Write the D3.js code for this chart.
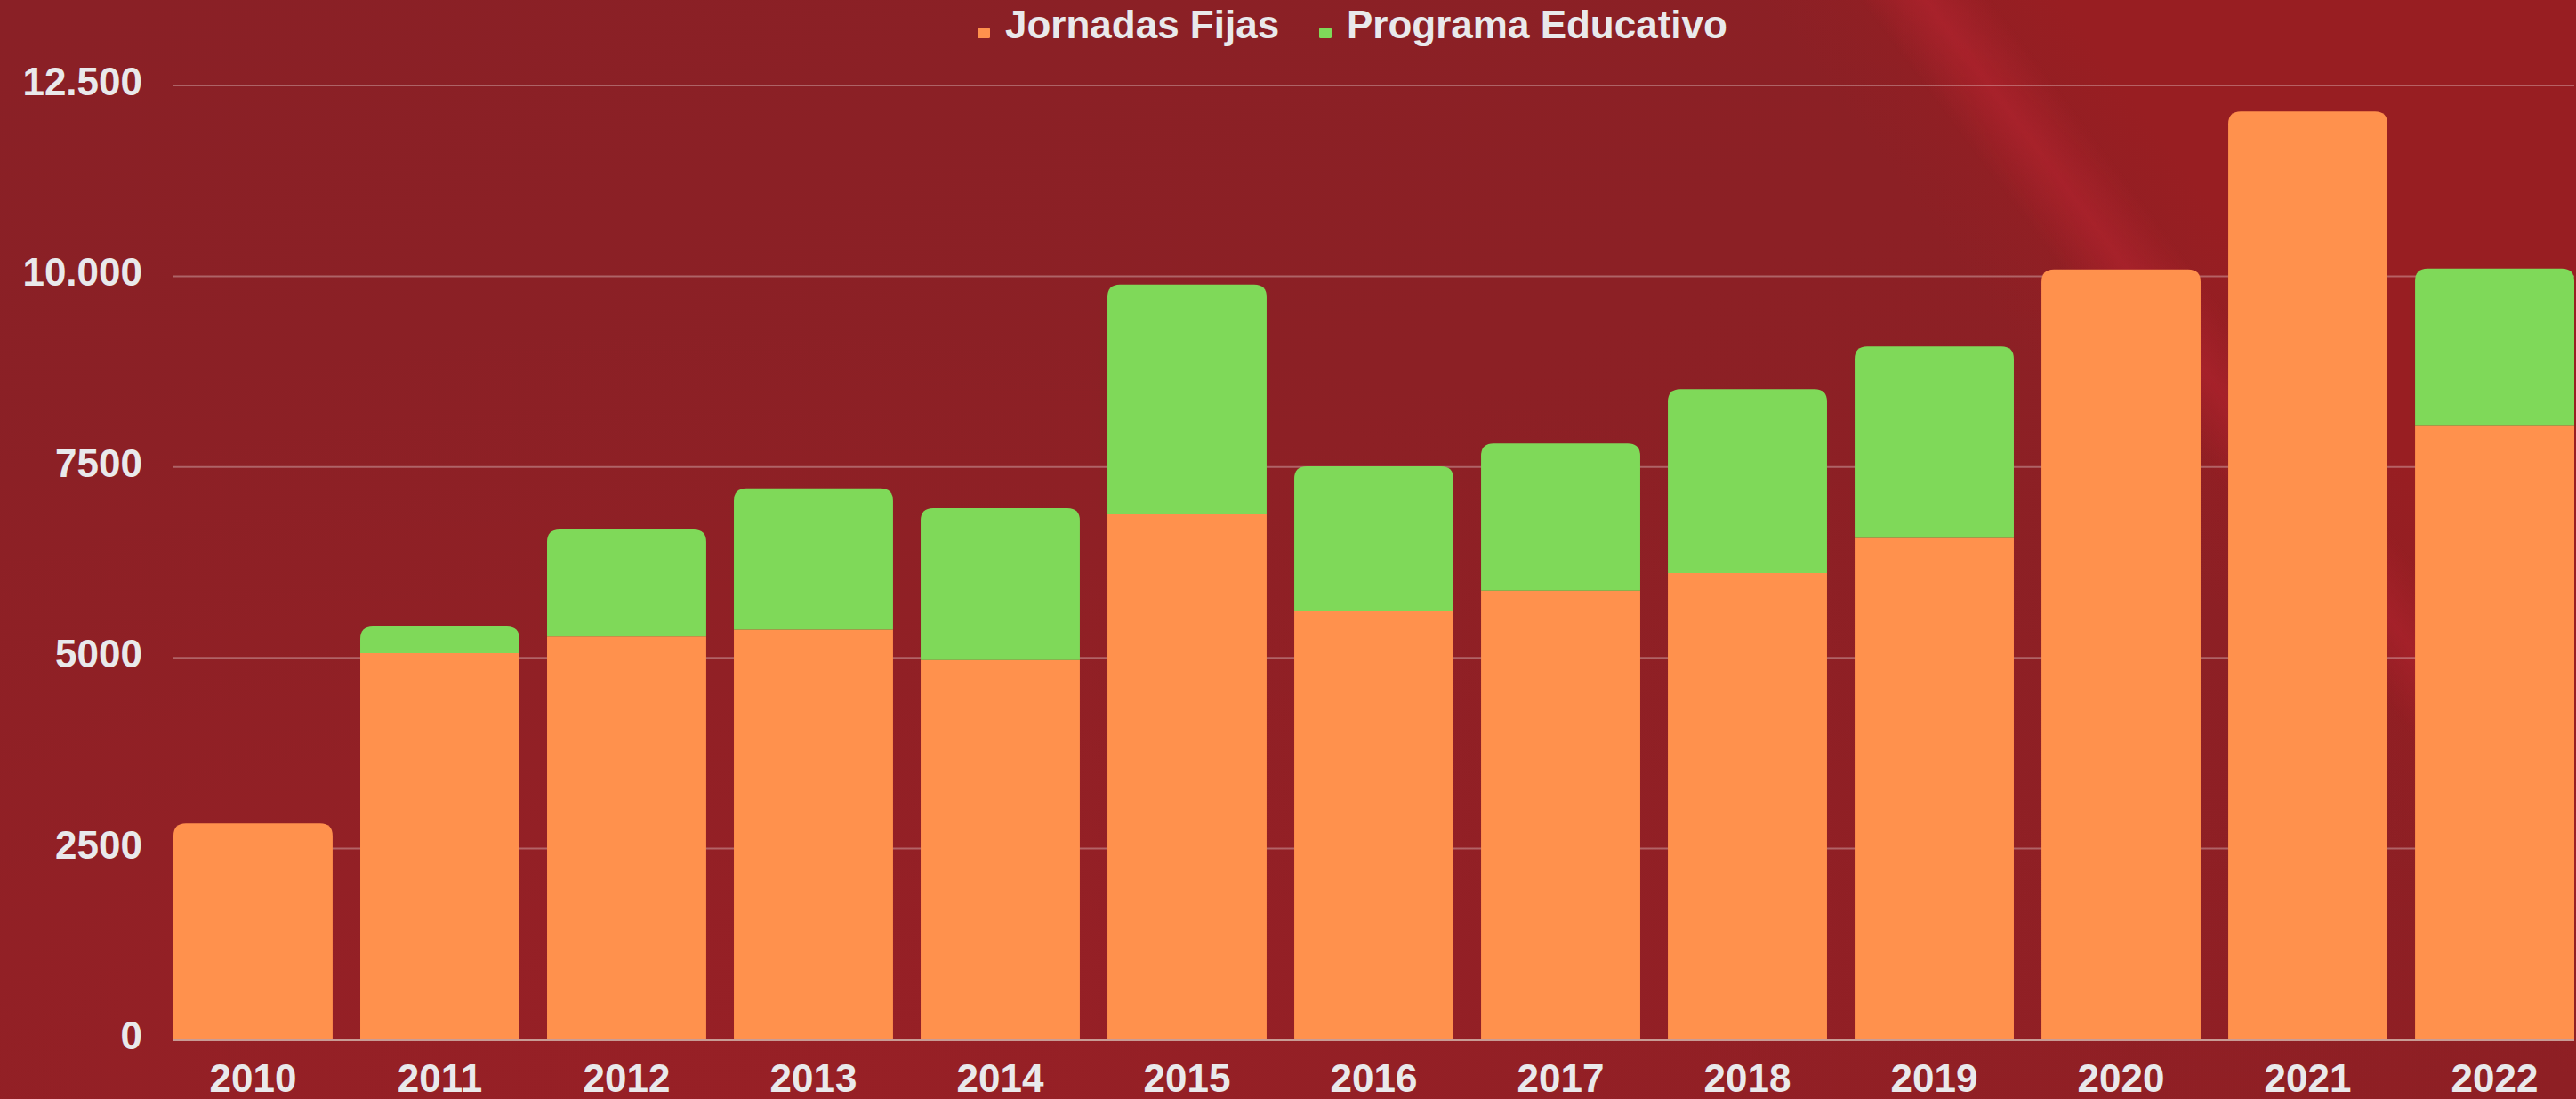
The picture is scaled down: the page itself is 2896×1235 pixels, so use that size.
<!DOCTYPE html>
<html>
<head>
<meta charset="utf-8">
<script src="https://cdn.jsdelivr.net/npm/d3@7"></script>
<style>
  html, body { margin: 0; padding: 0; background: #8b2026; overflow: hidden; }
  svg { display: block; }
</style>
</head>
<body>
<svg id="mainContainer"></svg>
<script>
/* global d3 */

var years = ['2010','2011','2012','2013','2014','2015','2016','2017','2018','2019','2020','2021','2022'];
var jornadasFijas = [2830, 5060, 5280, 5370, 4970, 6880, 5610, 5880, 6110, 6570, 10090, 12160, 8040];
var programaEducativo = [0, 350, 1400, 1850, 1990, 3010, 1900, 1930, 2410, 2510, 0, 0, 2060];
var seriesNames = ['Jornadas Fijas', 'Programa Educativo'];
var seriesColors = ['#ff914d', '#7fd959'];
var yTicks = [0, 2500, 5000, 7500, 10000, 12500];
var yTickLabels = ['0', '2500', '5000', '7500', '10.000', '12.500'];

var svgWidth = 2896;
var svgHeight = 1235;

var borders = {
    top: 96,
    bottom: 67,
    left: 195,
    right: 2
}

var svg = d3.select('#mainContainer')
    .attr('width', svgWidth)
    .attr('height', svgHeight);

// background: dark red, a bit redder on the right, with a soft light streak
var defs = svg.append('defs');

var bg = defs.append('linearGradient')
    .attr('id', 'bgGrad')
    .attr('x1', '0').attr('y1', '0')
    .attr('x2', '1').attr('y2', '1');
bg.append('stop').attr('offset', '0%').attr('stop-color', '#8a2026');
bg.append('stop').attr('offset', '45%').attr('stop-color', '#8c2025');
bg.append('stop').attr('offset', '100%').attr('stop-color', '#8e1f24');

var glow = defs.append('radialGradient')
    .attr('id', 'lowGlow')
    .attr('cx', '0.3').attr('cy', '1').attr('r', '0.7');
glow.append('stop').attr('offset', '0%').attr('stop-color', '#9a2026').attr('stop-opacity', 0.8);
glow.append('stop').attr('offset', '100%').attr('stop-color', '#9a2026').attr('stop-opacity', 0);

// right of the streak, gradient running across the streak direction
var side = defs.append('linearGradient')
    .attr('id', 'sideGrad')
    .attr('gradientUnits', 'userSpaceOnUse')
    .attr('x1', 2336).attr('y1', 477)
    .attr('x2', 2552).attr('y2', 316);
side.append('stop').attr('offset', '0%').attr('stop-color', '#981e22').attr('stop-opacity', 0);
side.append('stop').attr('offset', '100%').attr('stop-color', '#981e22').attr('stop-opacity', 1);

var streak = defs.append('linearGradient')
    .attr('id', 'streakGrad')
    .attr('gradientUnits', 'userSpaceOnUse')
    .attr('x1', 2408).attr('y1', 424)
    .attr('x2', 2504).attr('y2', 352);
streak.append('stop').attr('offset', '0%').attr('stop-color', '#a8222b').attr('stop-opacity', 0);
streak.append('stop').attr('offset', '50%').attr('stop-color', '#a8222b').attr('stop-opacity', 1);
streak.append('stop').attr('offset', '100%').attr('stop-color', '#a8222b').attr('stop-opacity', 0);

var fadeDown = defs.append('linearGradient')
    .attr('id', 'fadeDown')
    .attr('x1', '0').attr('y1', '0')
    .attr('x2', '0').attr('y2', '1');
fadeDown.append('stop').attr('offset', '0%').attr('stop-color', '#fff').attr('stop-opacity', 1);
fadeDown.append('stop').attr('offset', '65%').attr('stop-color', '#fff').attr('stop-opacity', 0.8);
fadeDown.append('stop').attr('offset', '100%').attr('stop-color', '#fff').attr('stop-opacity', 0.2);
defs.append('mask').attr('id', 'fadeMask')
    .attr('maskUnits', 'userSpaceOnUse')
    .attr('x', 0).attr('y', 0).attr('width', svgWidth).attr('height', svgHeight)
    .append('rect')
    .attr('width', svgWidth).attr('height', svgHeight)
    .attr('fill', 'url(#fadeDown)');

svg.append('rect')
    .attr('width', svgWidth).attr('height', svgHeight)
    .attr('fill', 'url(#bgGrad)');
svg.append('rect')
    .attr('width', svgWidth).attr('height', svgHeight)
    .attr('fill', 'url(#lowGlow)');

svg.append('rect')
    .attr('width', svgWidth).attr('height', svgHeight)
    .attr('fill', 'url(#sideGrad)');

svg.append('path')
    .attr('d', 'M1900,-200 L2500,-200 L3300,1300 L2700,1400 Z')
    .attr('fill', 'url(#streakGrad)')
    .attr('mask', 'url(#fadeMask)');

var plotAreaHeight = svgHeight - borders.top - borders.bottom;
var plotAreaWidth = svgWidth - borders.left - borders.right;

var x = d3.scaleBand()
    .domain(years)
    .range([borders.left, borders.left + plotAreaWidth])
    .paddingInner(0.148)
    .paddingOuter(0);

var y = d3.scaleLinear()
    .domain([0, 12500])
    .range([borders.top + plotAreaHeight, borders.top]);

// gridlines
var grid = svg.append('g').attr('class', 'grid');
grid.selectAll('line')
    .data(yTicks.slice(1))
    .enter()
    .append('line')
    .attr('x1', borders.left)
    .attr('x2', svgWidth - borders.right)
    .attr('y1', function(d){ return y(d); })
    .attr('y2', function(d){ return y(d); })
    .attr('stroke', '#ffffff')
    .attr('stroke-opacity', 0.3)
    .attr('stroke-width', 2);

// baseline
svg.append('line')
    .attr('x1', borders.left)
    .attr('x2', svgWidth - borders.right)
    .attr('y1', y(0) + 1)
    .attr('y2', y(0) + 1)
    .attr('stroke', '#c99c95')
    .attr('stroke-width', 2);

// stacked data
var table = years.map(function(yr, i){
    return { year: yr, jornadas: jornadasFijas[i], programa: programaEducativo[i] };
});
var stack = d3.stack().keys(['jornadas', 'programa']);
var stacked = stack(table);

function topIndex(d){
    // which layer is the top of the stack for this year
    return d.data.programa > 0 ? 1 : 0;
}

function barPath(x0, y0, w, y1, r){
    // y0 top, y1 bottom, rounded top corners only when r > 0
    var h = y1 - y0;
    if (r > h) r = h;
    return 'M' + x0 + ',' + y1 +
        'L' + x0 + ',' + (y0 + r) +
        'Q' + x0 + ',' + y0 + ' ' + (x0 + r) + ',' + y0 +
        'L' + (x0 + w - r) + ',' + y0 +
        'Q' + (x0 + w) + ',' + y0 + ' ' + (x0 + w) + ',' + (y0 + r) +
        'L' + (x0 + w) + ',' + y1 + 'Z';
}

var layers = svg.append('g').attr('class', 'bars')
    .selectAll('g')
    .data(stacked)
    .enter()
    .append('g')
    .attr('fill', function(d, i){ return seriesColors[i]; });

layers.selectAll('path')
    .data(function(d, li){ return d.map(function(p){ p.layer = li; return p; }); })
    .enter()
    .filter(function(d){ return d[1] - d[0] > 0; })
    .append('path')
    .attr('d', function(d){
        var r = topIndex(d) === d.layer ? 14 : 0;
        return barPath(x(d.data.year), y(d[1]), x.bandwidth(), y(d[0]), r);
    });

// y axis labels
svg.append('g').attr('class', 'yLabels')
    .selectAll('text')
    .data(yTicks)
    .enter()
    .append('text')
    .attr('x', 160)
    .attr('y', function(d){ return y(d) + 11; })
    .attr('text-anchor', 'end')
    .attr('font-family', 'Liberation Sans, Arial, sans-serif')
    .attr('font-weight', 'bold')
    .attr('font-size', 44)
    .attr('fill', '#e9e9eb')
    .text(function(d, i){ return yTickLabels[i]; });

// x axis labels
svg.append('g').attr('class', 'xLabels')
    .selectAll('text')
    .data(years)
    .enter()
    .append('text')
    .attr('x', function(d){ return x(d) + x.bandwidth() / 2; })
    .attr('y', 1227)
    .attr('text-anchor', 'middle')
    .attr('font-family', 'Liberation Sans, Arial, sans-serif')
    .attr('font-weight', 'bold')
    .attr('font-size', 44)
    .attr('fill', '#e9e9eb')
    .text(function(d){ return d; });

// legend
var legendX = [1099, 1483];
var legend = svg.append('g').attr('class', 'legend')
    .selectAll('g')
    .data(seriesNames)
    .enter()
    .append('g')
    .attr('transform', function(d, i){ return 'translate(' + legendX[i] + ',0)'; });

legend.append('rect')
    .attr('x', 0)
    .attr('y', 31)
    .attr('width', 14)
    .attr('height', 12)
    .attr('rx', 1.5)
    .attr('fill', function(d, i){ return seriesColors[i]; });

legend.append('text')
    .attr('x', 31)
    .attr('y', 43)
    .attr('font-family', 'Liberation Sans, Arial, sans-serif')
    .attr('font-weight', 'bold')
    .attr('font-size', 44)
    .attr('fill', '#e9e9eb')
    .text(function(d){ return d; });
</script>
</body>
</html>
